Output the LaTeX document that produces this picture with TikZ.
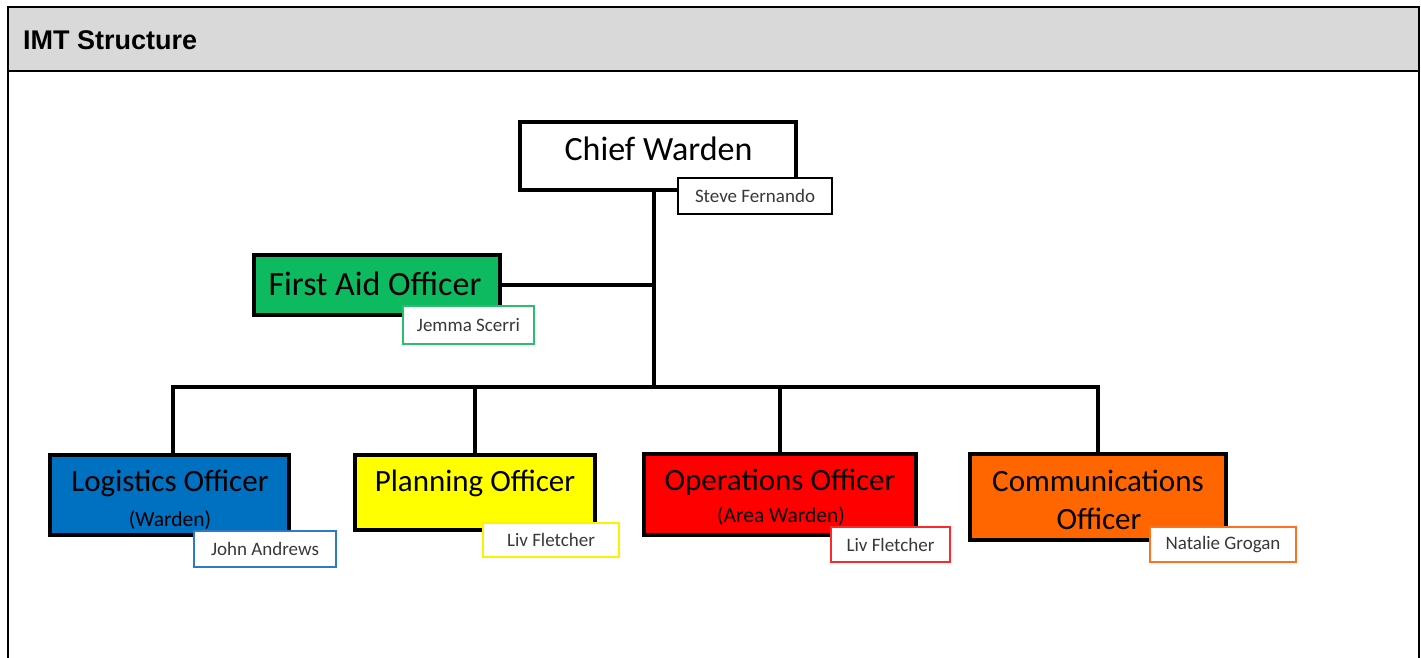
\documentclass[tikz,border=0pt]{standalone}
\usepackage{fontspec}
\setmainfont{Carlito}
\newfontfamily\headfont{Liberation Sans}
\definecolor{headgray}{HTML}{D9D9D9}
\definecolor{aidgreen}{RGB}{14,186,96}
\definecolor{logblue}{HTML}{0070C0}
\definecolor{planyellow}{HTML}{FFFF00}
\definecolor{opsred}{HTML}{FF0000}
\definecolor{comorange}{HTML}{FF6600}
\definecolor{aidline}{RGB}{40,192,110}
\definecolor{logline}{RGB}{44,123,201}
\definecolor{planline}{RGB}{255,240,0}
\definecolor{opsline}{RGB}{255,40,40}
\definecolor{comline}{RGB}{255,112,32}
\begin{document}
\begin{tikzpicture}[x=1pt,y=-1pt,
  rolebox/.style={draw=black, line width=4pt, inner sep=0pt},
  namebox/.style={draw=#1, fill=white, line width=2pt, inner sep=0pt,
    font=\fontsize{19}{22}\selectfont, text=black!78},
  bigtitle/.style={anchor=base, inner sep=0pt, font=\fontsize{34}{40}\selectfont},
  title/.style={anchor=base, inner sep=0pt, font=\fontsize{31}{36}\selectfont},
  subtitle/.style={anchor=base, inner sep=0pt, font=\fontsize{21.5}{26}\selectfont},
  wire/.style={line width=4pt, line join=miter}
]
\useasboundingbox (0,0) rectangle (1421,657);

% table frame with grey header row
\fill[headgray] (7.5,6.5) rectangle (1418.5,70.5);
\draw[line width=2pt] (7.5,700) -- (7.5,6.5) -- (1418.5,6.5) -- (1418.5,700);
\draw[line width=2pt] (7.5,70.5) -- (1418.5,70.5);
\node[anchor=base west, inner sep=0pt, font=\headfont\bfseries\fontsize{27}{32}\selectfont]
  (head) at (23,49) {IMT Structure};

% role boxes
\node[rolebox, fill=white, minimum width=276pt, minimum height=68pt] (cw) at (658,156) {};
\node[rolebox, fill=aidgreen, minimum width=246pt, minimum height=60pt] (fa) at (377,285) {};
\node[rolebox, fill=logblue, minimum width=239pt, minimum height=80pt] (lo) at (169.5,495) {};
\node[rolebox, fill=planyellow, minimum width=240pt, minimum height=75pt] (pl) at (475,492.5) {};
\node[rolebox, fill=opsred, minimum width=272pt, minimum height=81pt] (op) at (780,494.5) {};
\node[rolebox, fill=comorange, minimum width=256pt, minimum height=86pt] (co) at (1098,497) {};

% role titles
\node[bigtitle] (cwt) at (658.5,160) {Chief Warden};
\node[bigtitle] (fat) at (375,295) {First Aid Officer};
\node[title] (lot) at (170,491) {Logistics Officer};
\node[subtitle] (los) at (170,526) {(Warden)};
\node[title] (plt) at (475,491) {Planning Officer};
\node[title] (opt) at (780,490) {Operations Officer};
\node[subtitle] (ops) at (781,522) {(Area Warden)};
\node[title] (cot1) at (1098,491) {Communications};
\node[title] (cot2) at (1099,529) {Officer};

% name tags
\node[namebox=black, minimum width=154pt, minimum height=36pt] (sf) at (755,196) {Steve Fernando};
\node[namebox=aidline, minimum width=131pt, minimum height=38pt] (js) at (468.5,325) {Jemma Scerri};
\node[namebox=logline, minimum width=142pt, minimum height=36pt] (ja) at (265,549) {John Andrews};
\node[namebox=planline, minimum width=136pt, minimum height=34pt] (lf1) at (551,540) {Liv Fletcher};
\node[namebox=opsline, minimum width=119pt, minimum height=35pt] (lf2) at (890.5,544.5) {Liv Fletcher};
\node[namebox=comline, minimum width=146pt, minimum height=35pt] (ng) at (1223,544.5) {Natalie Grogan};

% reporting lines
\coordinate (spine) at (654,387);
\draw[wire] (cw.south -| spine) -- (spine);
\draw[wire] (fa.east) -- (fa.east -| spine);
\draw[wire] ([xshift=3.5pt]lo.north) |- (spine) -| (co.north);
\draw[wire] (pl.north) -- (pl.north |- spine);
\draw[wire] (op.north) -- (op.north |- spine);
\end{tikzpicture}
\end{document}
